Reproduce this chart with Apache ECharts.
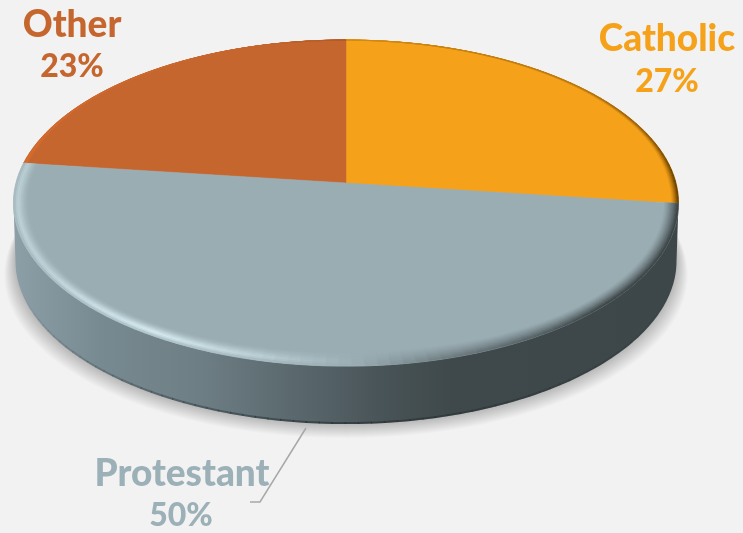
<!DOCTYPE html>
<html><head><meta charset="utf-8">
<style>html,body{margin:0;padding:0;background:#f2f2f2}#c{width:743px;height:533px}</style>
<script src="https://cdn.jsdelivr.net/npm/echarts@6/dist/echarts.min.js"></script>
</head><body><div id="c"></div>
<script>
const categories = ['Catholic', 'Protestant', 'Other'];
const shares = [27, 50, 23];
const colors = ['#f5a11a', '#9aadb3', '#c6662f'];
const labelColors = ['#f5a11a', '#9cb0b7', '#c6662f'];
const bevelLight = ['#ffc860', '#d6ebf1', '#ea7430'];
const bevelDark = ['#6b4200', '#3d4648', '#6b3510'];
const bevelWidth = [7, 14, 6];

const CX = 346, CY = 183, RX = 330, RY = 160.6, K = 0.123, DEPTH = 58, RXB = 328;
const total = shares.reduce((a, b) => a + b, 0);
let run = 0;
const rows = shares.map((s, i) => { const r = [s, run, i]; run += s; return r; });

function proj(deg, cy = CY, rx = RX) {
  const t = deg * Math.PI / 180, u = Math.sin(t), v = Math.cos(t), s = 1 / (1 + K * v);
  return [CX + rx * u * s, cy - RY * v * s];
}
function mix(a, b, f) {
  const p = c => [1, 3, 5].map(i => parseInt(c.substr(i, 2), 16));
  const A = p(a), B = p(b);
  return 'rgb(' + A.map((x, i) => Math.round(x + (B[i] - x) * f)).join(',') + ')';
}
const lightTable = [[0,-.25],[50,-.45],[90,-1],[135,-1],[165,-.45],[180,.05],[195,.6],[212,1],[240,.6],[270,.55],[290,.45],[330,.2],[360,-.25]];
function lightAt(d) {
  d = ((d % 360) + 360) % 360;
  for (let i = 1; i < lightTable.length; i++) {
    const a = lightTable[i - 1], b = lightTable[i];
    if (d <= b[0]) return a[1] + (b[1] - a[1]) * (d - a[0]) / (b[0] - a[0]);
  }
  return 0;
}
function inset(deg, px) {
  const P = proj(deg), dx = P[0] - CX, dy = P[1] - CY, L = Math.hypot(dx, dy);
  return [P[0] - dx / L * px, P[1] - dy / L * px];
}
const profile = [0.45, 0.8, 1, 0.85, 0.62, 0.4, 0.22, 0.08];

function renderBody() {
  const top = [], bottom = [];
  for (let d = 97; d <= 263; d += 1) bottom.push(proj(d, CY + DEPTH, RXB));
  for (let d = 263; d >= 97; d -= 1) top.push(proj(d));
  const wall = new echarts.graphic.LinearGradient(15, 0, 678, 0, [
    {offset: 0, color: '#8c9fa6'}, {offset: .13, color: '#788a91'}, {offset: .28, color: '#6d7e84'},
    {offset: .43, color: '#59676c'}, {offset: .55, color: '#495458'}, {offset: .66, color: '#3f494b'},
    {offset: 1, color: '#3d4648'}], true);
  const kids = [];
  for (let e = 14; e >= 1; e--) {
    const ring = [];
    for (let d = 0; d < 360; d += 3) ring.push(proj(d, CY + DEPTH + e, RXB + e * 0.8));
    kids.push({type: 'polygon', shape: {points: ring}, style: {fill: 'rgba(0,0,0,0.017)'}});
  }
  kids.push({type: 'polygon', shape: {points: bottom.concat(top)}, style: {fill: wall}});
  for (let d = 110; d < 250; d += 2) {
    const a = 0.6 * Math.max(0, 1 - Math.abs(d + 1 - 180) / 70);
    kids.push({type: 'polyline', shape: {points: [proj(d, CY + DEPTH - 1, RXB), proj(d + 2.2, CY + DEPTH - 1, RXB)]},
      style: {fill: null, stroke: 'rgba(35,45,47,' + a.toFixed(3) + ')', lineWidth: 2}});
  }
  return {type: 'group', silent: true, children: kids};
}

function renderSlice(params, api) {
  const val = api.value(0), before = api.value(1), i = api.value(2);
  const a0 = before / total * 360, a1 = (before + val) / total * 360;
  const pts = [[CX, CY]];
  const step = 2, n = Math.ceil((a1 - a0) / step), ds = [];
  for (let k = 0; k <= n; k++) ds.push(a0 + (a1 - a0) * k / n);
  ds.forEach(d => pts.push(proj(d)));
  const kids = [{type: 'polygon', shape: {points: pts}, style: {fill: colors[i], stroke: colors[i], lineWidth: .5}}];
  const L = profile.length;
  for (let l = L - 1; l >= 0; l--) {
    for (let k = 0; k < n; k++) {
      const d0 = ds[k], d1 = ds[k + 1], m = (d0 + d1) / 2;
      const w = d => bevelWidth[i] * Math.max(i === 1 ? 1 : 0.05, Math.min(1, 1 - Math.cos(d * Math.PI / 180)));
      const s = lightAt(m);
      const dark = s < 0;
      const prof = dark ? Math.pow(1 - l / L, 1.3) : profile[l];
      const col = mix(colors[i], dark ? bevelDark[i] : bevelLight[i], Math.abs(s) * prof);
      const q = [inset(d0, w(d0) * l / L), inset(d1, w(d1) * l / L), inset(d1, w(d1) * (l + 1) / L), inset(d0, w(d0) * (l + 1) / L)];
      kids.push({type: 'polygon', shape: {points: q}, style: {fill: col, stroke: col, lineWidth: .6}});
    }
  }
  return {type: 'group', silent: true, children: kids};
}

const nameFont = {fontFamily: 'Lato', fontWeight: 900, fontSize: 37, align: 'center', verticalAlign: 'middle'};
const pctFont = {fontFamily: 'Lato', fontWeight: 900, fontSize: 32, align: 'center', verticalAlign: 'middle'};
const nameAnchors = [[667, 39], [182, 474], [72, 25]];
const pctAnchors = [[667, 82], [181, 516], [72, 67]];
const chart = echarts.init(document.getElementById('c'));
chart.setOption({
  backgroundColor: '#f2f2f2',
  animation: false,
  series: [
    {type: 'custom', coordinateSystem: 'none', z: 1, data: [[0]], renderItem: renderBody},
    {type: 'custom', coordinateSystem: 'none', z: 2, data: [rows[0], rows[2], rows[1]], renderItem: renderSlice}
  ],
  graphic: categories.map((c, i) => ({
    type: 'text', z: 10, x: nameAnchors[i][0], y: nameAnchors[i][1],
    style: Object.assign({text: c, fill: labelColors[i]}, nameFont)
  })).concat(categories.map((c, i) => ({
    type: 'text', z: 10, x: pctAnchors[i][0], y: pctAnchors[i][1],
    style: Object.assign({text: shares[i] + '%', fill: labelColors[i]}, pctFont)
  }))).concat([{type: 'polyline', z: 9, shape: {points: [[306, 428], [260, 502], [250, 502]]}, style: {fill: null, stroke: '#a8a8a8', lineWidth: 1.5}}])
});
</script></body></html>
